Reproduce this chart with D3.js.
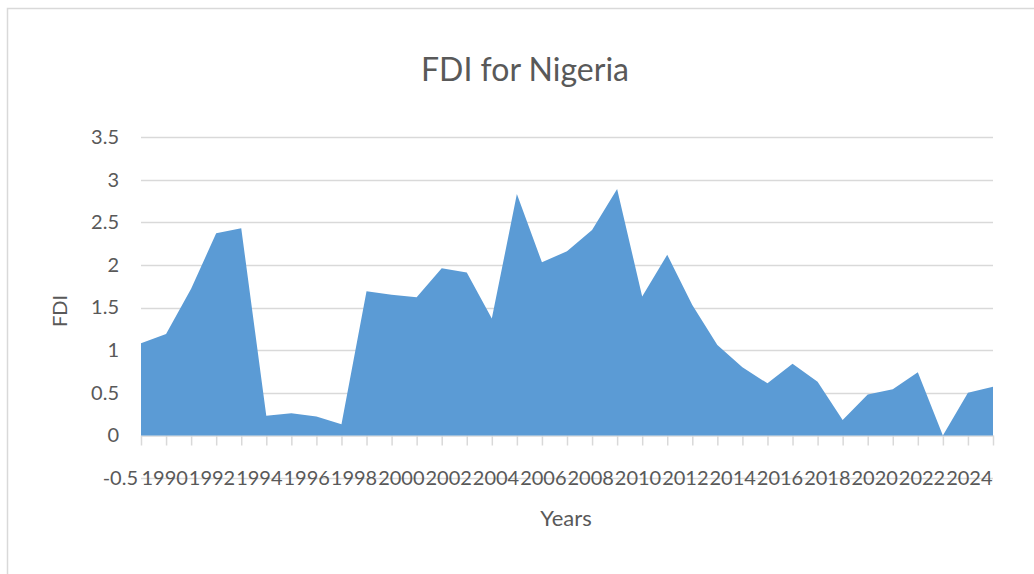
<!DOCTYPE html>
<html>
<head>
<meta charset="utf-8">
<script src="https://cdn.jsdelivr.net/npm/d3@7"></script>
<style>
  body { margin: 0; background: #fff; }
  svg { display: block; font-family: Lato, "Open Sans", sans-serif; }
</style>
</head>
<body>
<script>
// FDI for Nigeria - area chart

// Data
const years = d3.range(1990, 2025);
const fdi = [1.08, 1.19, 1.72, 2.37, 2.43, 0.23, 0.26, 0.22, 0.13, 1.69,
             1.65, 1.62, 1.96, 1.91, 1.37, 2.83, 2.03, 2.16, 2.41, 2.89,
             1.63, 2.12, 1.53, 1.06, 0.80, 0.61, 0.84, 0.63, 0.18, 0.48,
             0.54, 0.74, 0.00, 0.50, 0.57];
const yTicks = [-0.5, 0, 0.5, 1, 1.5, 2, 2.5, 3, 3.5];
const xLabels = d3.range(1990, 2025, 2);   // every other year shown

// Layout
const width = 1034;
const height = 574;
const plot = {left: 141, right: 993, top: 137, bottom: 478};
const textColor = '#595959';
const gridColor = '#d9d9d9';

const data = years.map((y, i) => ({year: y, value: fdi[i]}));

const svg = d3.select('body')
  .append('svg')
  .attr('width', width)
  .attr('height', height);

// chart area border (right/bottom edges are cropped off)
svg.append('rect')
  .attr('x', 7.5).attr('y', 8.5)
  .attr('width', 1040).attr('height', 580)
  .attr('fill', '#fff')
  .attr('stroke', gridColor)
  .attr('stroke-width', 1.5);

// Scales
const xScale = d3.scalePoint()
  .domain(years)
  .range([plot.left, plot.right]);

const yScale = d3.scaleLinear()
  .domain([-0.5, 3.5])
  .range([plot.bottom, plot.top]);

const labelScale = d3.scaleBand()
  .domain(xLabels)
  .range([plot.left, plot.right]);

// Gridlines
svg.append('g')
  .classed('grid', true)
  .selectAll('line')
  .data(yTicks.filter(d => d !== 0))
  .join('line')
  .attr('x1', plot.left)
  .attr('x2', plot.right)
  .attr('y1', d => Math.round(yScale(d)) + 0.5)
  .attr('y2', d => Math.round(yScale(d)) + 0.5)
  .attr('stroke', gridColor)
  .attr('stroke-width', 1.5);

// Y axis labels (no axis line)
const yAxis = d3.axisLeft(yScale)
  .tickValues(yTicks)
  .tickSize(0)
  .tickPadding(22)
  .tickFormat(d => String(d));

svg.append('g')
  .classed('axis y', true)
  .attr('transform', 'translate(' + plot.left + ',0)')
  .call(yAxis)
  .call(g => g.select('.domain').remove())
  .call(g => g.selectAll('text')
    .attr('fill', textColor)
    .attr('font-size', 20)
    .attr('font-family', 'Lato, sans-serif'))
  .call(g => g.selectAll('.tick')
    .filter(d => d < 0)
    .select('text')
    .attr('x', -3));

// Area
const area = d3.area()
  .x(d => xScale(d.year))
  .y0(yScale(0))
  .y1(d => yScale(d.value));

// X axis (crosses at 0) with tick marks
const xAxis = d3.axisBottom(xScale)
  .tickSize(10)
  .tickSizeOuter(0)
  .tickFormat('');

svg.append('g')
  .classed('axis x', true)
  .attr('transform', 'translate(0,' + (Math.round(yScale(0)) + 0.5) + ')')
  .call(xAxis)
  .call(g => g.select('.domain').attr('stroke', gridColor).attr('stroke-width', 1.5))
  .call(g => g.selectAll('.tick line').attr('stroke', gridColor).attr('stroke-width', 1.5));

svg.append('path')
  .datum(data)
  .attr('fill', '#5b9bd5')
  .attr('d', area);

// Category labels along the bottom
svg.append('g')
  .classed('xlabels', true)
  .selectAll('text')
  .data(xLabels)
  .join('text')
  .attr('x', d => labelScale(d) + labelScale.bandwidth() / 2)
  .attr('y', yScale(-0.5))
  .attr('dy', '0.35em')
  .attr('text-anchor', 'middle')
  .attr('fill', textColor)
  .attr('font-size', 20)
  .text(d => d);

// Titles
svg.append('text')
  .attr('x', 525)
  .attr('y', 81)
  .attr('text-anchor', 'middle')
  .attr('fill', textColor)
  .attr('font-size', 32)
  .text('FDI for Nigeria');

svg.append('text')
  .attr('transform', 'translate(67,311) rotate(-90)')
  .attr('text-anchor', 'middle')
  .attr('fill', textColor)
  .attr('font-size', 20)
  .text('FDI');

svg.append('text')
  .attr('x', 566)
  .attr('y', 526)
  .attr('text-anchor', 'middle')
  .attr('fill', textColor)
  .attr('font-size', 22)
  .text('Years');
</script>
</body>
</html>
